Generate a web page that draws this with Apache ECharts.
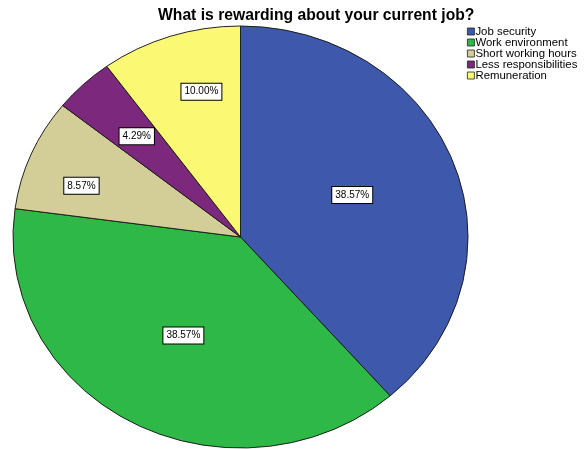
<!DOCTYPE html>
<html>
<head>
<meta charset="utf-8">
<script src="https://cdn.jsdelivr.net/npm/echarts@6/dist/echarts.min.js"></script>
<style>
  html, body { margin: 0; padding: 0; background: #fff; }
  #chart { width: 586px; height: 449px; }
</style>
</head>
<body>
<div id="chart"></div>
<script>
// Responses to "What is rewarding about your current job?"
const categories = ['Job security', 'Work environment', 'Short working hours', 'Less responsibilities', 'Remuneration'];
const counts = [27, 27, 6, 3, 7];
const colors = ['#3E58AC', '#2EB848', '#D3CE97', '#7C287D', '#FBF873'];

// Pie layout: elliptical pie, starts at 12 o'clock and runs clockwise
const pieLayout = { cx: 240.5, cy: 237, rx: 227.5, ry: 211 };
// Label anchor per slice: fraction of radius and angular nudge (degrees)
const labelRadius = [0.53, 0.53, 0.74, 0.66, 0.71];
const labelNudge = [-1.5, 0, -4, 0, 4];

const total = counts.reduce((a, b) => a + b, 0);
const starts = [];
counts.reduce((acc, c, i) => { starts[i] = acc; return acc + c; }, 0);

function sliceRenderer(idx) {
  return function (params, api) {
    const value = api.value(0);
    const a0 = starts[idx] / total * Math.PI * 2;
    const a1 = a0 + value / total * Math.PI * 2;
    const mid = (a0 + a1) / 2 + labelNudge[idx] * Math.PI / 180;
    const f = labelRadius[idx];
    const lx = pieLayout.cx + pieLayout.rx * f * Math.sin(mid);
    const ly = pieLayout.cy - pieLayout.ry * f * Math.cos(mid);
    const pct = (value / total * 100).toFixed(2) + '%';
    return {
      type: 'group',
      children: [
        {
          type: 'sector',
          x: pieLayout.cx,
          y: pieLayout.cy,
          scaleY: pieLayout.ry / pieLayout.rx,
          shape: {
            cx: 0, cy: 0, r0: 0, r: pieLayout.rx,
            startAngle: a0 - Math.PI / 2,
            endAngle: a1 - Math.PI / 2,
            clockwise: true
          },
          style: {
            fill: colors[idx],
            stroke: '#1a1a1a',
            lineWidth: 1,
            strokeNoScale: true
          }
        },
        {
          type: 'text',
          x: lx,
          y: ly,
          z2: 100,
          style: {
            text: pct,
            fill: '#000',
            font: '10px "Liberation Sans", Arial, sans-serif',
            lineHeight: 12,
            align: 'center',
            verticalAlign: 'middle',
            backgroundColor: '#fff',
            borderColor: '#000',
            borderWidth: 1,
            padding: [2, 3, 2, 3]
          }
        }
      ]
    };
  };
}

const chart = echarts.init(document.getElementById('chart'), null, { renderer: 'canvas' });
chart.setOption({
  animation: false,
  backgroundColor: '#fff',
  title: {
    text: 'What is rewarding about your current job?',
    left: 158,
    top: 8,
    padding: 0,
    textStyle: {
      fontFamily: '"Liberation Sans", Arial, sans-serif',
      fontWeight: 'bold',
      fontSize: 15.7,
      color: '#000'
    }
  },
  legend: {
    orient: 'vertical',
    left: 467,
    top: 26,
    padding: 0,
    itemWidth: 7,
    itemHeight: 7,
    itemGap: 0,
    icon: 'rect',
    data: categories,
    itemStyle: { borderColor: '#222', borderWidth: 0.8 },
    textStyle: {
      fontFamily: '"Liberation Sans", Arial, sans-serif',
      fontSize: 11.4,
      lineHeight: 10.6,
      color: '#000',
      padding: [0, 0, 0, -4]
    }
  },
  series: categories.map((name, i) => ({
    type: 'custom',
    name: name,
    coordinateSystem: 'none',
    itemStyle: { color: colors[i] },
    renderItem: sliceRenderer(i),
    data: [[counts[i]]]
  }))
});
</script>
</body>
</html>
